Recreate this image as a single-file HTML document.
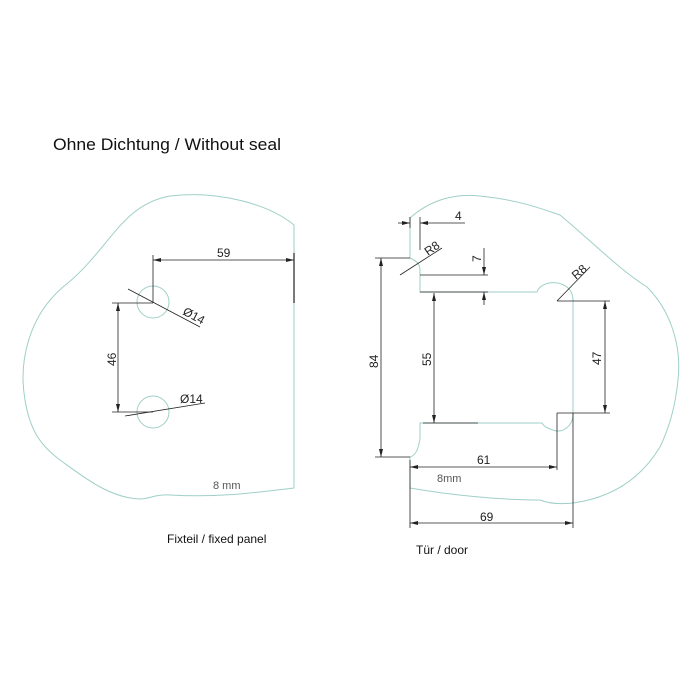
<!DOCTYPE html>
<html><head><style>html,body{margin:0;padding:0;background:#fff}svg{display:block}</style></head>
<body>
<svg width="700" height="700" viewBox="0 0 700 700" xmlns="http://www.w3.org/2000/svg" font-family="Liberation Sans, sans-serif">
<defs>
<marker id="a" markerWidth="8" markerHeight="6" refX="8" refY="3" orient="auto-start-reverse" markerUnits="userSpaceOnUse"><path d="M0,1 L8,3 L0,5z" fill="#222"/></marker>
</defs>
<text x="53" y="150" font-size="17" fill="#111" textLength="228" lengthAdjust="spacingAndGlyphs">Ohne Dichtung / Without seal</text>

<!-- left panel -->
<g fill="none" stroke="#9fcfc8" stroke-width="1">
<path d="M294,225 C270,205 220,190 170,196 C120,205 110,250 63,287 C30,315 18,360 25,400 C30,430 40,445 60,460 C85,478 110,498 140,499 C150,499 155,494 170,495 C220,498 260,492 294,488 Z"/>
<circle cx="153" cy="302" r="16"/>
<circle cx="153" cy="412" r="16"/>
</g>
<g stroke="#222" stroke-width="0.8" fill="none">
<line x1="294" y1="253" x2="294" y2="303" stroke-width="1.2"/>
<line x1="153" y1="255" x2="153" y2="303"/>
<line x1="153" y1="260" x2="294" y2="260" marker-start="url(#a)" marker-end="url(#a)"/>
<line x1="112" y1="303" x2="153" y2="303"/>
<line x1="112" y1="412" x2="153" y2="412"/>
<line x1="118" y1="303" x2="118" y2="412" marker-start="url(#a)" marker-end="url(#a)"/>
<line x1="128" y1="289" x2="200" y2="327"/>
<line x1="125" y1="416" x2="205" y2="403"/>
</g>
<g font-size="12" fill="#222">
<text x="217" y="257">59</text>
<text transform="translate(116,366) rotate(-90)">46</text>
<text transform="translate(182,314) rotate(28)">Ø14</text>
<text x="180" y="403">Ø14</text>
<text x="213" y="489" fill="#555" font-size="11">8  mm</text>
<text x="167" y="543" font-size="12" fill="#111">Fixteil / fixed panel</text>
</g>

<!-- door -->
<g fill="none" stroke="#9fcfc8" stroke-width="1">
<path d="M410,218 C430,200 455,193 480,196 C520,200 545,210 560,215 C590,240 620,270 647,287 C670,310 682,345 678,380 C675,410 668,430 660,447 C640,480 610,498 573,503 C555,505 545,502 540,500 C500,500 450,495 410,488"/>
<path d="M410,218 L410,258 Q420,262 420,270 L420,292 L537,292 C540,282 560,278 570,290 Q573,295 573,300 L573,415 C573,425 563,434 553,430 C546,428 543,425 542,423 L420,423 L420,438 Q418,455 410,457 L410,488"/>
</g>
<g stroke="#222" stroke-width="0.8" fill="none">
<line x1="375" y1="258" x2="410" y2="258"/>
<line x1="375" y1="457" x2="410" y2="457"/>
<line x1="381" y1="258" x2="381" y2="457" marker-start="url(#a)" marker-end="url(#a)"/>
<line x1="434" y1="293" x2="434" y2="423" marker-start="url(#a)" marker-end="url(#a)"/>
<line x1="423" y1="423" x2="478" y2="423"/>
<line x1="557" y1="301" x2="610" y2="301"/>
<line x1="557" y1="413" x2="610" y2="413"/>
<line x1="605" y1="301" x2="605" y2="413" marker-start="url(#a)" marker-end="url(#a)"/>
<line x1="557" y1="413" x2="557" y2="470"/>
<line x1="410" y1="467" x2="557" y2="467" marker-start="url(#a)" marker-end="url(#a)"/>
<line x1="573" y1="413" x2="573" y2="528"/>
<line x1="410" y1="460" x2="410" y2="528"/>
<line x1="410" y1="523" x2="573" y2="523" marker-start="url(#a)" marker-end="url(#a)"/>
<line x1="410" y1="217" x2="410" y2="228"/>
<line x1="420" y1="217" x2="420" y2="250"/>
<line x1="398" y1="223" x2="410" y2="223" marker-end="url(#a)"/>
<line x1="420" y1="223" x2="465" y2="223" marker-start="url(#a)"/>
<line x1="420" y1="275" x2="488" y2="275"/>
<line x1="420" y1="292" x2="488" y2="292"/>
<line x1="484" y1="248" x2="484" y2="275" marker-end="url(#a)"/>
<line x1="484" y1="292" x2="484" y2="305" marker-start="url(#a)"/>
<line x1="400" y1="275" x2="442" y2="248"/>
<line x1="557" y1="301" x2="590" y2="267"/>
</g>
<g font-size="12" fill="#222">
<text x="455" y="220">4</text>
<text transform="translate(428,256) rotate(-35)">R8</text>
<text transform="translate(481,262) rotate(-90)">7</text>
<text transform="translate(576,280) rotate(-40)">R8</text>
<text transform="translate(378,368) rotate(-90)">84</text>
<text transform="translate(431,366) rotate(-90)">55</text>
<text transform="translate(601,365) rotate(-90)">47</text>
<text x="477" y="464">61</text>
<text x="437" y="482" fill="#555" font-size="11">8mm</text>
<text x="480" y="521">69</text>
<text x="416" y="554" fill="#111">Tür / door</text>
</g>
</svg>
</body></html>
